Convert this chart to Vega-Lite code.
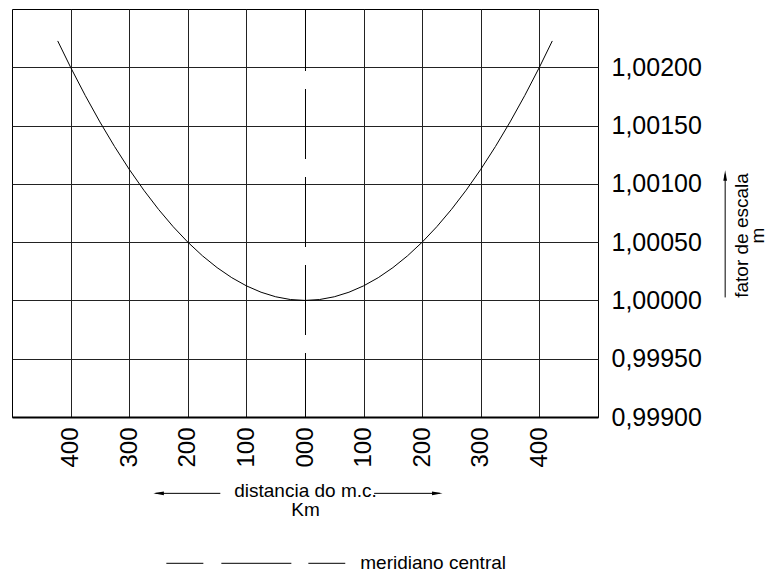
{
  "$schema": "https://vega.github.io/schema/vega-lite/v6.json",
  "width": 586,
  "height": 408,
  "autosize": {"type": "none"},
  "padding": {"left": 12, "top": 9, "right": 170, "bottom": 155},
  "config": {
    "font": "Liberation Sans",
    "view": {"stroke": "black", "strokeWidth": 1},
    "axis": {"gridColor": "#222", "gridOpacity": 1, "gridWidth": 1, "labelColor": "black", "titleColor": "black", "titleFontWeight": "normal"}
  },
  "layer": [
    {
      "data": {
        "values": [
          {"km": -422, "m": 1.002226},
          {"km": -400, "m": 1.002},
          {"km": -375, "m": 1.0017578},
          {"km": -350, "m": 1.0015313},
          {"km": -325, "m": 1.0013203},
          {"km": -300, "m": 1.001125},
          {"km": -275, "m": 1.0009453},
          {"km": -250, "m": 1.0007813},
          {"km": -225, "m": 1.0006328},
          {"km": -200, "m": 1.0005},
          {"km": -175, "m": 1.0003828},
          {"km": -150, "m": 1.0002813},
          {"km": -125, "m": 1.0001953},
          {"km": -100, "m": 1.000125},
          {"km": -75, "m": 1.0000703},
          {"km": -50, "m": 1.0000313},
          {"km": -25, "m": 1.0000078},
          {"km": 0, "m": 1.0},
          {"km": 25, "m": 1.0000078},
          {"km": 50, "m": 1.0000313},
          {"km": 75, "m": 1.0000703},
          {"km": 100, "m": 1.000125},
          {"km": 125, "m": 1.0001953},
          {"km": 150, "m": 1.0002813},
          {"km": 175, "m": 1.0003828},
          {"km": 200, "m": 1.0005},
          {"km": 225, "m": 1.0006328},
          {"km": 250, "m": 1.0007813},
          {"km": 275, "m": 1.0009453},
          {"km": 300, "m": 1.001125},
          {"km": 325, "m": 1.0013203},
          {"km": 350, "m": 1.0015313},
          {"km": 375, "m": 1.0017578},
          {"km": 400, "m": 1.002},
          {"km": 422, "m": 1.002226}
        ]
      },
      "mark": {"type": "line", "color": "black", "strokeWidth": 1},
      "encoding": {
        "x": {
          "field": "km", "type": "quantitative",
          "scale": {"domain": [-500, 500], "nice": false, "zero": false},
          "axis": {
            "values": [-400, -300, -200, -100, 0, 100, 200, 300, 400],
            "labelExpr": "format(abs(datum.value), '03d')",
            "labelAngle": 270,
            "labelFontSize": 24,
            "labelPadding": 10,
            "ticks": false,
            "gridOpacity": {"condition": {"test": "datum.value == 0", "value": 0}, "value": 1},
            "domainColor": "black",
            "domainWidth": 2,
            "title": ["distancia do m.c.", "Km"],
            "titleFontSize": 19,
            "titleLineHeight": 19,
            "titlePadding": 14
          }
        },
        "y": {
          "field": "m", "type": "quantitative",
          "scale": {"domain": [0.999, 1.0025], "nice": false, "zero": false},
          "axis": {
            "orient": "right",
            "values": [0.999, 0.9995, 1.0, 1.0005, 1.001, 1.0015, 1.002],
            "labelExpr": "replace(format(datum.value, '.5f'), '.', ',')",
            "labelFontSize": 25,
            "labelPadding": 13,
            "ticks": false,
            "domain": false,
            "title": ["fator de escala", "m"],
            "titleFontSize": 19,
            "titleLineHeight": 16,
            "titleAngle": 270,
            "titleAlign": "center",
            "titleBaseline": "middle",
            "titleX": 143,
            "titleY": 226
          }
        }
      }
    },
    {
      "data": {"values": [{}]},
      "mark": {"type": "rule", "color": "black", "strokeWidth": 1, "strokeDash": [70, 18], "strokeDashOffset": 6},
      "encoding": {
        "x": {"datum": 0.85},
        "y": {"datum": 0.999},
        "y2": {"datum": 1.0025}
      }
    },
    {
      "data": {"values": [{}]},
      "mark": {"type": "rule", "color": "black", "strokeWidth": 1},
      "encoding": {
        "x": {"datum": -255},
        "x2": {"datum": -144.5},
        "y": {"datum": 0.998345}
      }
    },
    {
      "data": {"values": [{}]},
      "mark": {"type": "rule", "color": "black", "strokeWidth": 1},
      "encoding": {
        "x": {"datum": 118},
        "x2": {"datum": 230},
        "y": {"datum": 0.998345}
      }
    },
    {
      "data": {"values": [{}]},
      "mark": {"type": "point", "shape": "M-1,0L1,-0.35L1,0.35Z", "filled": true, "color": "black", "opacity": 1, "size": 110},
      "encoding": {
        "x": {"datum": -249.8},
        "y": {"datum": 0.998345}
      }
    },
    {
      "data": {"values": [{}]},
      "mark": {"type": "point", "shape": "M1,0L-1,-0.35L-1,0.35Z", "filled": true, "color": "black", "opacity": 1, "size": 110},
      "encoding": {
        "x": {"datum": 225.7},
        "y": {"datum": 0.998345}
      }
    },
    {
      "data": {"values": [{}]},
      "mark": {"type": "rule", "color": "black", "strokeWidth": 1},
      "encoding": {
        "x": {"datum": 717},
        "y": {"datum": 1.0000257},
        "y2": {"datum": 1.00108}
      }
    },
    {
      "data": {"values": [{}]},
      "mark": {"type": "point", "shape": "M0,-1L-0.35,1L0.35,1Z", "filled": true, "color": "black", "opacity": 1, "size": 110},
      "encoding": {
        "x": {"datum": 717},
        "y": {"datum": 1.0010723}
      }
    },
    {
      "data": {"values": [{}]},
      "mark": {"type": "rule", "color": "black", "strokeWidth": 1, "strokeDash": [37, 18, 70, 17, 37, 300]},
      "encoding": {
        "x": {"datum": -236.6},
        "x2": {"datum": 68.7},
        "y": {"datum": 0.997745}
      }
    },
    {
      "data": {"values": [{}]},
      "mark": {"type": "text", "text": "meridiano central", "align": "left", "baseline": "middle", "fontSize": 19, "fill": "black"},
      "encoding": {
        "x": {"datum": 94.3},
        "y": {"datum": 0.997745}
      }
    }
  ]
}
